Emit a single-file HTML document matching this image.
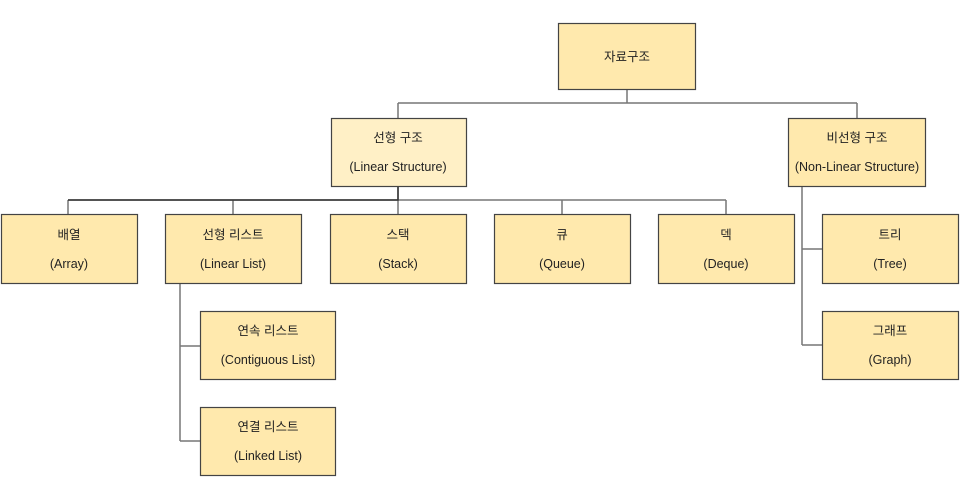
<!DOCTYPE html>
<html><head><meta charset="utf-8"><style>
html,body{margin:0;padding:0;background:#fff;width:965px;height:483px;overflow:hidden}
svg text{font-family:"Liberation Sans","Noto Sans CJK KR",sans-serif;font-size:12.5px;fill:#222;text-anchor:middle}
</style></head><body>
<svg width="965" height="483" viewBox="0 0 965 483" xmlns="http://www.w3.org/2000/svg">
<g stroke="#777" stroke-width="1.5" fill="none">
<path d="M627 89V103M398 103H857M398 103V118M857 103V118"/>
<path d="M398 186V200M68 200H726M68 200V214M233 200V214M398 200V214M562 200V214M726 200V214"/>
<path d="M180 283V441M180 346H200M180 441H200"/>
<path d="M802 186V345M802 249H822M802 345H822"/>
</g>
<path d="M68 200H398V186" stroke="#333" stroke-width="1.5" fill="none"/>
<g stroke="#444" stroke-width="1.2" fill="#FFE9AD">
<rect x="558.5" y="23.5" width="137" height="66"/>
<rect x="331.5" y="118.5" width="135" height="68" fill="#FFF0C6"/>
<rect x="788.5" y="118.5" width="137" height="68"/>
<rect x="1.5" y="214.5" width="136" height="69"/>
<rect x="165.5" y="214.5" width="136" height="69"/>
<rect x="330.5" y="214.5" width="136" height="69"/>
<rect x="494.5" y="214.5" width="136" height="69"/>
<rect x="658.5" y="214.5" width="136" height="69"/>
<rect x="200.5" y="311.5" width="135" height="68"/>
<rect x="200.5" y="407.5" width="135" height="68"/>
<rect x="822.5" y="214.5" width="136" height="69"/>
<rect x="822.5" y="311.5" width="136" height="68"/>
</g>
<text x="627" y="61">자료구조</text>
<text x="398" y="142">선형 구조</text><text x="398" y="171">(Linear Structure)</text>
<text x="857" y="142">비선형 구조</text><text x="857" y="171">(Non-Linear Structure)</text>
<text x="69" y="239">배열</text><text x="69" y="268">(Array)</text>
<text x="233" y="239">선형 리스트</text><text x="233" y="268">(Linear List)</text>
<text x="398" y="239">스택</text><text x="398" y="268">(Stack)</text>
<text x="562" y="239">큐</text><text x="562" y="268">(Queue)</text>
<text x="726" y="239">덱</text><text x="726" y="268">(Deque)</text>
<text x="268" y="335">연속 리스트</text><text x="268" y="364">(Contiguous List)</text>
<text x="268" y="431">연결 리스트</text><text x="268" y="460">(Linked List)</text>
<text x="890" y="239">트리</text><text x="890" y="268">(Tree)</text>
<text x="890" y="335">그래프</text><text x="890" y="364">(Graph)</text>
</svg>
</body></html>
